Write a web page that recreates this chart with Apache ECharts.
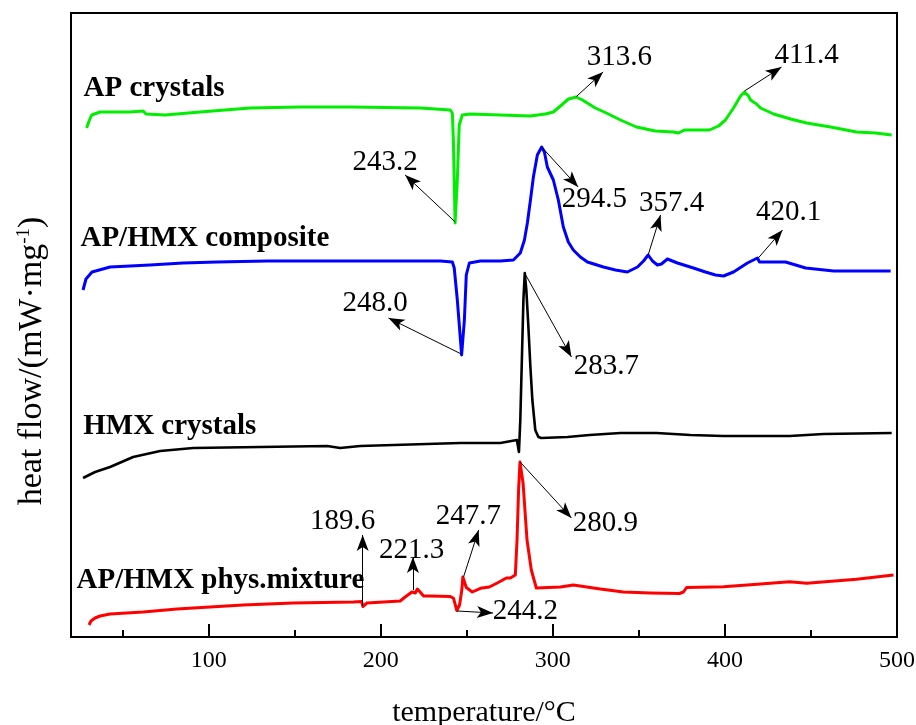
<!DOCTYPE html>
<html><head><meta charset="utf-8">
<script src="https://cdn.jsdelivr.net/npm/echarts@6/dist/echarts.min.js"></script>
<style>html,body{margin:0;padding:0;background:#fff}#c{width:916px;height:725px}</style>
</head><body><div id="c"></div>
<script>
// temperature (°C) and heat flow (arbitrary stacked units) for each curve
const apT = [29.1,30.5,32.0,36.9,42.7,54.3,61.9,63.6,74.7,95.0,124.1,153.2,182.3,223.0,240.4,241.6,242.2,243.2,244.5,245.6,247.4,252.0,269.5,286.9,295.7,300.3,304.4,309.1,313.6,317.2,324.7,331.1,339.3,348.6,359.6,370.1,373.0,376.5,382.9,391.0,396.3,400.3,405.0,409.1,411.4,413.7,414.9,416.6,418.4,420.7,428.3,438.2,447.5,461.4,476.5,487.6,496.9];
const apY = [509,516,522,525,525,525,526,523,522,525,529,530,530,529,527,524,497,414,457,512,522,523,522,521,523,525,531,538,540,537,529,524,517,510,506,505,504,507,507,507,511,517,529,541,545,541,537,535,533,529,523,518,514,510,505,504,502];

const compT = [27.0,28.7,32.2,42.7,65.9,85.1,104.9,134.0,172.4,211.3,234.6,241.6,242.7,244.5,247.0,248.6,249.7,251.5,257.9,269.5,277.1,281.1,283.5,285.2,287.0,288.7,291.0,293.5,295.1,296.8,300.3,303.2,306.1,309.0,311.9,316.0,320.1,329.4,336.4,343.3,349.2,352.7,355.4,357.9,360.8,363.1,366.6,372.4,381.7,388.7,394.5,399.2,405.0,413.1,418.9,420.1,424.8,435.2,441.1,446.9,463.2,482.9,496.3];
const compY = [347,358,365,370,372,374,375,376,376,376,376,375,369,337,282,317,362,374,376,376,377,384,397,414,437,460,482,490,485,470,457,437,410,395,387,380,375,370,367,365,370,376,382,376,372,373,378,374,369,365,362,361,365,374,379,375,375,375,372,369,366,366,366];

const hmxT = [27.0,34.0,42.7,56.1,71.8,91.0,129.9,168.9,176.4,188.1,246.2,269.5,279.1,280.3,281.1,282.0,282.9,283.7,284.6,285.8,286.9,288.1,289.8,291.6,293.3,308.5,321.3,339.3,360.2,380.0,399.2,437.6,457.3,496.9];
const hmxY = [159,165,170,180,186,189,190,191,189,191,194,194,197,185,217,277,337,364,347,310,272,237,207,200,199,200,202,204,204,202,201,201,203,204];

const mixT = [30.5,31.6,34.0,36.9,42.7,61.9,81.6,100.8,120.0,149.1,184.0,188.9,189.6,192.0,211.3,214.2,218.1,220.1,221.3,224.9,228.8,240.4,242.3,244.2,245.8,247.1,247.7,249.7,253.2,257.9,263.1,267.7,273.0,275.3,278.2,279.2,280.1,280.9,282.7,285.0,287.5,290.4,304.4,311.9,327.6,341.0,356.7,373.6,375.9,377.7,399.2,420.7,437.6,447.5,476.5,498.0];
const mixY = [12,16,19,21,23,25,28,30,32,34,35,35.5,30.5,34,36,40,45,44,48,41,41,40.5,38.7,26.5,32,47,60,49.5,45,48.7,50,54,59,59,62,97,147,175,154,97,67,49,50,52,48,45,44,43.5,45,49.5,50.3,53,55.3,53.7,57.7,62];

const curveNames = ['AP crystals','AP/HMX composite','HMX crystals','AP/HMX phys.mixture'];
const curveColors = ['#00ee00','#0000ff','#000000','#ff0000'];
const nameAt = [[27.0,548],[25.2,398],[26.8,210],[22.9,56]];

const annText = ['313.6','411.4','243.2','294.5','357.4','420.1','248.0','283.7','280.9','189.6','221.3','247.7','244.2'];
const annFrom = [[313.4,540],[411.4,546],[243.3,415],[293.5,490],[355.4,382],[419.4,379],[246.8,283],[283.6,364],[281.0,175],[189.5,31],[218.7,47],[248.1,60],[244.5,26]];
const annTo   = [[329.2,565],[432.9,570],[214.2,462],[314.7,450],[362.6,422],[433.5,407],[204.5,319],[310.8,280],[310.8,119],[189.5,102],[218.7,80],[256.9,107],[265.2,24]];
const annAt   = [[338.7,580],[447.5,582],[202.6,475],[324.2,438],[369.0,434],[437.0,425],[196.8,334],[331.1,271],[330.6,114],[177.8,116],[218.0,87],[250.9,121],[284.0,26]];

const majorTicks = [100,200,300,400,500];
const minorTicks = [50,150,250,350,450];

const FONT = '"Liberation Serif","Times New Roman",serif';
const zip = (a,b) => a.map((v,i)=>[v,b[i]]);
const curves = [[apT,apY],[compT,compY],[hmxT,hmxY],[mixT,mixY]];

const series = curves.map((c,i)=>({
  type:'line', name:curveNames[i], data:zip(c[0],c[1]), showSymbol:false, symbol:'none',
  lineStyle:{color:curveColors[i], width: i===2?2.6:3, join:'round'}, itemStyle:{color:curveColors[i]},
  animation:false, silent:true, z:2
}));

series.push({
  type:'scatter', name:'names', symbolSize:1, itemStyle:{color:'rgba(0,0,0,0)'}, silent:true, animation:false, z:5,
  data: curveNames.map((n,i)=>({value:nameAt[i], name:n})),
  label:{show:true, position:'right', distance:0, formatter:p=>p.name, fontFamily:FONT, fontWeight:'bold', fontSize:29, color:'#000', textBorderWidth:0, opacity:1}
});

series.push({
  type:'scatter', name:'ann', symbolSize:1, itemStyle:{color:'rgba(0,0,0,0)'}, silent:true, animation:false, z:5,
  data: annText.map((t,i)=>({value:annAt[i], name:t})),
  label:{show:true, position:'inside', formatter:p=>p.name, fontFamily:FONT, fontSize:29, color:'#000', textBorderWidth:0, opacity:1},
  markLine:{
    silent:true, animation:false, symbol:['none','arrow'], symbolSize:[9,16],
    label:{show:false}, emphasis:{disabled:true},
    lineStyle:{color:'#000', width:1, type:'solid'},
    data: annFrom.map((f,i)=>[{coord:f},{coord:annTo[i]}])
  }
});

const chart = echarts.init(document.getElementById('c'), null, {renderer:'canvas'});
chart.setOption({
  backgroundColor:'#fff',
  animation:false,
  grid:{left:71, right:19, top:13, bottom:88, outerBoundsMode:'none', containLabel:false,
        show:true, borderColor:'#000', borderWidth:2, backgroundColor:'transparent'},
  xAxis:[{
    type:'value', min:20, max:500, position:'bottom',
    name:'temperature/°C', nameLocation:'middle', nameGap:61,
    nameTextStyle:{fontFamily:FONT, fontSize:30, color:'#000'},
    axisLine:{show:true, lineStyle:{color:'#000', width:2}},
    axisTick:{show:true, inside:true, length:13, customValues:majorTicks, lineStyle:{color:'#000', width:2}},
    axisLabel:{show:true, customValues:majorTicks, margin:12, fontFamily:FONT, fontSize:24, color:'#000'},
    splitLine:{show:false}
  },{
    type:'value', min:20, max:500, position:'bottom', offset:0,
    axisLine:{show:false},
    axisTick:{show:true, inside:true, length:7, customValues:minorTicks, lineStyle:{color:'#000', width:2}},
    axisLabel:{show:false}, splitLine:{show:false}
  }],
  yAxis:{
    type:'value', min:0, max:624,
    name:'heat flow/(mW·mg{sup|-1})', nameLocation:'middle', nameGap:22,
    nameTextStyle:{fontFamily:FONT, fontSize:34, color:'#000', padding:[0,72,0,0],
      rich:{sup:{fontFamily:FONT, fontSize:19, color:'#000', verticalAlign:'top'}}},
    axisLine:{show:false}, axisTick:{show:false}, axisLabel:{show:false}, splitLine:{show:false}
  },
  series: series
});
</script>
</body></html>
